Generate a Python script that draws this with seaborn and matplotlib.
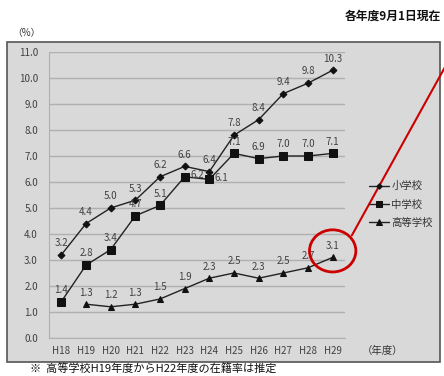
import matplotlib
matplotlib.use("Agg")
import matplotlib.pyplot as plt
import seaborn as sns
import numpy as np
import pandas as pd
from matplotlib.patches import Rectangle, Ellipse

sns.set_style("white")
plt.rcParams['font.family'] = ['Noto Sans CJK JP', 'DejaVu Sans']

# data
years = ["H18", "H19", "H20", "H21", "H22", "H23", "H24", "H25", "H26", "H27", "H28", "H29"]
elementary = [3.2, 4.4, 5.0, 5.3, 6.2, 6.6, 6.4, 7.8, 8.4, 9.4, 9.8, 10.3]
junior = [1.4, 2.8, 3.4, 4.7, 5.1, 6.2, 6.1, 7.1, 6.9, 7.0, 7.0, 7.1]
high = [np.nan, 1.3, 1.2, 1.3, 1.5, 1.9, 2.3, 2.5, 2.3, 2.5, 2.7, 3.1]
series_names = ["小学校", "中学校", "高等学校"]

W, H = 444, 376
fig = plt.figure(figsize=(W / 100, H / 100), dpi=100)

# gray panel behind the chart
panel = Rectangle((7 / W, 1 - 362 / H), 433 / W, 320 / H, transform=fig.transFigure,
                  facecolor="#d9d9d9", edgecolor="#555555", lw=1.2, zorder=-5)
fig.patches.append(panel)

ax = fig.add_axes([49 / W, 38 / H, 296 / W, 286 / H])
ax.set_facecolor("none")

x = np.arange(len(years))
styles = [("D", 3.5), ("s", 5.5), ("^", 5)]
all_vals = [elementary, junior, high]
for name, vals, (m, ms) in zip(series_names, all_vals, styles):
    df = pd.DataFrame({"x": x, "y": vals}).dropna()
    sns.lineplot(data=df, x="x", y="y", ax=ax, color="#222222", lw=1,
                 marker=m, markersize=ms, markeredgecolor="#111111",
                 markerfacecolor="#111111", label=name, zorder=3)

lab_kw = dict(fontsize=7, color="#404040", ha="center", va="center", zorder=4)
for i, v in enumerate(elementary):
    ax.text(i, v + 0.45, f"{v:.1f}", **lab_kw)
for i, v in enumerate(junior):
    if years[i] in ("H23", "H24"):
        ax.text(i + 0.5, v + 0.05, f"{v:.1f}", **lab_kw)
    else:
        ax.text(i, v + 0.45, f"{v:.1f}", **lab_kw)
for i, v in enumerate(high):
    if not np.isnan(v):
        ax.text(i, v + 0.45, f"{v:.1f}", **lab_kw)

ax.set_xlim(-0.5, len(years) - 0.5)
ax.set_ylim(0, 11)
ax.set_yticks(np.arange(0, 11.5, 1.0))
ax.set_yticklabels([f"{t:.1f}" for t in np.arange(0, 11.5, 1.0)])
ax.set_xticks(x)
ax.set_xticklabels(years)
ax.tick_params(axis="both", labelsize=7, labelcolor="#404040", length=0, pad=8)
ax.tick_params(axis="x", pad=6)
ax.grid(axis="y", color="#b0b0b0", lw=1)
ax.set_axisbelow(True)
for s in ["top", "right"]:
    ax.spines[s].set_visible(False)
ax.spines["left"].set_color("#b0b0b0")
ax.spines["bottom"].set_color("#b0b0b0")
ax.set_xlabel("")
ax.set_ylabel("")

leg = ax.legend(loc="upper left", bbox_to_anchor=(360 / W, 1 - 172 / H),
                bbox_transform=fig.transFigure, frameon=False, fontsize=7.5,
                handlelength=1.9, handletextpad=0.2, labelspacing=0.8,
                markerscale=0.8)
for t in leg.get_texts():
    t.set_color("#333333")

# red highlight on the last high school value
last = len(years) - 1
circ = Ellipse((last, high[last] + 0.25), 1.88, 1.62, fill=False,
               edgecolor="#cc0000", lw=2, clip_on=False, zorder=5)
ax.add_patch(circ)
ax.plot([last + 0.78, last + 4.6], [high[last] + 0.85, high[last] + 7.4],
        color="#cc0000", lw=1.5, clip_on=False, zorder=5)

fig.text(441 / W, 1 - 16 / H, "各年度9月1日現在", ha="right", va="center",
         fontsize=8.5, color="#111111", fontweight="bold")
fig.text(12 / W, 1 - 33 / H, "（%）", ha="left", va="center", fontsize=7, color="#333333")
fig.text(362 / W, 1 - 351 / H, "（年度）", ha="left", va="center", fontsize=7.5, color="#333333")
fig.text(30 / W, 1 - 369 / H, "※  高等学校H19年度からH22年度の在籍率は推定", ha="left",
         va="center", fontsize=8, color="#111111")

fig.savefig("out.png", dpi=100)
